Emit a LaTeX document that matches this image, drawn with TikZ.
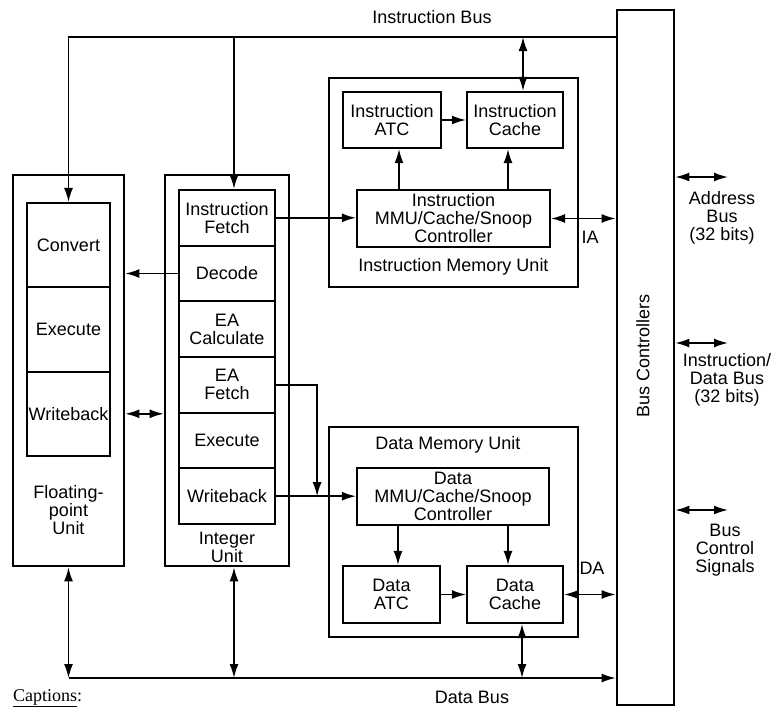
\documentclass[tikz,border=0pt]{standalone}
\usepackage{fontspec}
\setmainfont{Liberation Sans}
\newfontfamily\capfont{Liberation Serif}
\usetikzlibrary{arrows.meta,positioning}

\begin{document}
\begin{tikzpicture}[x=1pt, y=-1pt,
    font=\fontsize{18}{18}\selectfont,
    >={Latex[length=14pt,width=9pt]},
    unit/.style={draw, line width=2.8pt, inner sep=0pt},
    stage/.style={draw, line width=2.2pt, inner sep=0pt, align=center},
    wire/.style={line width=1.6pt},
    lbl/.style={align=center, inner sep=0pt}]
  \useasboundingbox (0,0) rectangle (774,707);

  % Floating-point unit
  \node[unit, minimum width=111, minimum height=391] (fpu) at (68.5,370.5) {};
  \node[stage, minimum width=83, minimum height=84.3] (fconv) at (68.5,245.2) {Convert};
  \node[stage, minimum width=83, minimum height=84.3] (fexec) at (68.5,329.5) {Execute};
  \node[stage, minimum width=83, minimum height=84.3] (fwb) at (68.5,413.8) {Writeback};
  \node[lbl] (fpulbl) at (68.5,510) {Floating-\\point\\Unit};

  % Integer unit
  \node[unit, minimum width=124, minimum height=391] (int) at (227,370.5) {};
  \node[stage, minimum width=96, minimum height=55.7] (ifetch) at (227,217.8) {Instruction\\Fetch};
  \node[stage, minimum width=96, minimum height=55.7] (decode) at (227,273.5) {Decode};
  \node[stage, minimum width=96, minimum height=55.7] (eacalc) at (227,329.2) {EA\\Calculate};
  \node[stage, minimum width=96, minimum height=55.7] (eafetch) at (227,384.8) {EA\\Fetch};
  \node[stage, minimum width=96, minimum height=55.7] (iexec) at (227,440.5) {Execute};
  \node[stage, minimum width=96, minimum height=55.7] (iwb) at (227,496.2) {Writeback};
  \node[lbl] (intlbl) at (227,547) {Integer\\Unit};

  % Instruction memory unit
  \node[unit, minimum width=249, minimum height=209] (imu) at (453.5,182.5) {};
  \node[stage, minimum width=98, minimum height=56] (iatc) at (392,120) {Instruction\\ATC};
  \node[stage, minimum width=96, minimum height=56] (icache) at (515,120) {Instruction\\Cache};
  \node[stage, minimum width=193, minimum height=57] (imc) at (453.5,218.5) {Instruction\\MMU/Cache/Snoop\\Controller};
  \node[lbl] (imulbl) at (453.5,267) {Instruction Memory Unit};

  % Data memory unit
  \node[unit, minimum width=249, minimum height=210] (dmu) at (453.5,532) {};
  \node[lbl] (dmulbl) at (448,445) {Data Memory Unit};
  \node[stage, minimum width=192, minimum height=57] (dmc) at (453,496.5) {Data\\MMU/Cache/Snoop\\Controller};
  \node[stage, minimum width=97, minimum height=57] (datc) at (391.5,594.5) {Data\\ATC};
  \node[stage, minimum width=96, minimum height=57] (dcache) at (515,594.5) {Data\\Cache};

  % Bus controllers
  \node[unit, minimum width=57, minimum height=695] (bc) at (645.5,357.5) {};
  \node[rotate=90] (bclbl) at (643,356) {Bus Controllers};

  % Instruction bus
  \coordinate (ib) at (68.5,37);
  \draw[wire,->] (ib -| bc.west) -- (ib) -- (fconv.north);
  \draw[wire,->] ([xshift=7pt]ifetch.north |- ib) -- ([xshift=7pt]ifetch.north);
  \draw[wire,<->] ([xshift=8pt]icache.north |- ib) -- ([xshift=8pt]icache.north);
  \node[lbl] (iblbl) at (432,17) {Instruction Bus};

  % Data bus
  \coordinate (db) at (68.5,678);
  \draw[wire,->] (db) -- (db -| bc.west);
  \draw[wire,<->] (fpu.south) -- (fpu.south |- db);
  \draw[wire,<->] ([xshift=7pt]int.south) -- ([xshift=7pt]int.south |- db);
  \draw[wire,<->] ([xshift=7pt]dcache.south) -- ([xshift=7pt]dcache.south |- db);
  \node[lbl] (dblbl) at (472,697) {Data Bus};

  % Paths between units
  \draw[wire,->] (decode.west) -- (decode.west -| fpu.east);
  \draw[wire,<->] (fwb.east -| fpu.east) -- (fwb.east -| int.west);
  \draw[wire,->] (ifetch.east) -- (ifetch.east -| imc.west);
  \draw[wire,->] (iwb.east) -- (iwb.east -| dmc.west);
  \draw[wire,->] (eafetch.east) -| ([xshift=41pt]iwb.east);

  % Inside the memory units
  \draw[wire,->] ([xshift=7pt]iatc.south |- imc.north) -- ([xshift=7pt]iatc.south);
  \draw[wire,->] ([xshift=-7pt]icache.south |- imc.north) -- ([xshift=-7pt]icache.south);
  \draw[wire,->] (iatc) -- (icache);
  \draw[wire,->] ([xshift=6.5pt]datc.north |- dmc.south) -- ([xshift=6.5pt]datc.north);
  \draw[wire,->] ([xshift=-7pt]dcache.north |- dmc.south) -- ([xshift=-7pt]dcache.north);
  \draw[wire,->] (datc) -- (dcache);

  % To the bus controllers
  \draw[wire,<->] (imc.east) -- (imc.east -| bc.west);
  \node (ia) at (590,237) {IA};
  \draw[wire,<->] (dcache.east) -- (dcache.east -| bc.west);
  \node (da) at (592,568) {DA};

  % External buses
  \coordinate (ab) at (728,177);
  \draw[wire,<->] (ab -| bc.east) -- (ab);
  \node[lbl] (ablbl) at (722,218) {Address\\Bus\\(32 bits)};
  \coordinate (idb) at (728,343);
  \draw[wire,<->] (idb -| bc.east) -- (idb);
  \node[lbl] (idblbl) at (727,380) {Instruction/\\Data Bus\\(32 bits)};
  \coordinate (cs) at (728,510);
  \draw[wire,<->] (cs -| bc.east) -- (cs);
  \node[lbl] (cslbl) at (725,550) {Bus\\Control\\Signals};

  \node[anchor=base west, inner sep=0pt, font=\capfont\fontsize{18}{18}\selectfont] (capt) at (13,701) {\underline{Captions}:};
\end{tikzpicture}
\end{document}
